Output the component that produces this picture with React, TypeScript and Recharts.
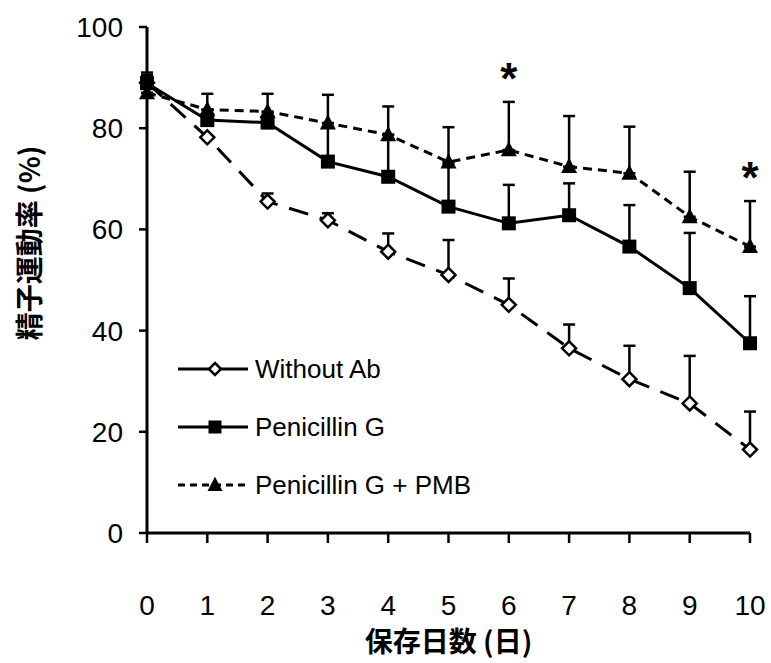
import { JSX } from 'react';
import {
	ErrorBar,
	LabelList,
	Line,
	LineChart,
	XAxis,
	YAxis,
} from 'recharts';

const days = [0, 1, 2, 3, 4, 5, 6, 7, 8, 9, 10];
const withoutAb = [89, 78.2, 65.5, 61.8, 55.6, 51, 45.1, 36.5, 30.4, 25.6, 16.5];
const withoutAbErr = [1.5, 0, 1.6, 1.4, 3.6, 6.9, 5.2, 4.7, 6.6, 9.4, 7.5];
const penicillin = [88.9, 81.6, 81.1, 73.4, 70.4, 64.5, 61.2, 62.8, 56.6, 48.4, 37.5];
const penicillinErr = [1.5, 2, 2, 7.6, 8.3, 8.5, 7.6, 6.3, 8.2, 10.9, 9.3];
const pmb = [87, 83.7, 83.3, 81, 78.7, 73.3, 75.7, 72.4, 71.1, 62.5, 56.6];
const pmbErr = [4, 3.1, 3.5, 5.6, 5.6, 6.9, 9.5, 10, 9.2, 8.9, 9];
const significantDays = [6, 10];
const yTicks = [0, 20, 40, 60, 80, 100];

const chartData = days.map((day, i) => ({
	day,
	withoutAb: withoutAb[i],
	withoutAbErr: [0, withoutAbErr[i]],
	penicillin: penicillin[i],
	penicillinErr: [0, penicillinErr[i]],
	pmb: pmb[i],
	pmbErr: [0, pmbErr[i]],
	star: significantDays.includes(day) ? pmb[i] + pmbErr[i] : null,
}));

const FONT = "'Liberation Sans', Arial, sans-serif";
const CJK = "'Noto Sans CJK JP', sans-serif";

const Diamond = ({ cx, cy, r = 7 }: { cx: number; cy: number; r?: number }) => (
	<path
		d={`M${cx},${cy - r}L${cx + r},${cy}L${cx},${cy + r}L${cx - r},${cy}Z`}
		fill="#fff"
		stroke="#000"
		strokeWidth={2.5}
	/>
);

const Square = ({ cx, cy, s = 14 }: { cx: number; cy: number; s?: number }) => (
	<rect x={cx - s / 2} y={cy - s / 2} width={s} height={s} fill="#000" />
);

const Triangle = ({ cx, cy, s = 16 }: { cx: number; cy: number; s?: number }) => (
	<path
		d={`M${cx},${cy - s * 0.55}L${cx + s / 2},${cy + s * 0.4}L${cx - s / 2},${cy + s * 0.4}Z`}
		fill="#000"
	/>
);

const legendItems = [
	{ name: 'Without Ab', dash: undefined, icon: 'diamond' },
	{ name: 'Penicillin G', dash: undefined, icon: 'square' },
	{ name: 'Penicillin G + PMB', dash: '7 5', icon: 'triangle' },
];

// legend sits inside the plot, bottom-left
const LegendBox = () => (
	<div
		style={{
			position: 'absolute',
			left: 178,
			top: 340,
			fontFamily: FONT,
		}}
	>
		{legendItems.map((item) => (
			<div
				key={item.name}
				style={{ display: 'flex', alignItems: 'center', height: 58 }}
			>
				<svg width={77} height={24}>
					<line
						x1={0}
						x2={70}
						y1={12}
						y2={12}
						stroke="#000"
						strokeWidth={3}
						strokeDasharray={item.dash}
					/>
					{item.icon === 'diamond' && <Diamond cx={37} cy={12} r={6} />}
					{item.icon === 'square' && <Square cx={37} cy={12} s={13} />}
					{item.icon === 'triangle' && <Triangle cx={37} cy={12} s={15} />}
				</svg>
				<span style={{ fontSize: 26, color: '#000' }}>{item.name}</span>
			</div>
		))}
	</div>
);

const tickStyle = { fill: '#000', fontSize: 28, fontFamily: FONT };

export default function App(): JSX.Element {
	return (
		<div
			style={{
				position: 'absolute',
				left: 0,
				top: 0,
				width: 771,
				height: 663,
				background: '#fff',
			}}
		>
			<LineChart
				width={771}
				height={663}
				data={chartData}
				margin={{ top: 27, right: 21, bottom: 30, left: 0 }}
			>
				<XAxis
					dataKey="day"
					type="number"
					domain={[0, 10]}
					ticks={days}
					height={100}
					tickSize={10}
					tickMargin={52}
					tick={tickStyle}
					axisLine={{ stroke: '#000', strokeWidth: 3 }}
					tickLine={{ stroke: '#000', strokeWidth: 2.5 }}
					label={{
						value: '保存日数 (日)',
						position: 'bottom',
						offset: -1,
						style: {
							fill: '#000',
							fontSize: 28,
							fontWeight: 'bold',
							fontFamily: CJK,
						},
					}}
				/>
				<YAxis
					type="number"
					domain={[0, 100]}
					ticks={yTicks}
					width={147}
					tickSize={8}
					tickMargin={16}
					tick={tickStyle}
					axisLine={{ stroke: '#000', strokeWidth: 3 }}
					tickLine={{ stroke: '#000', strokeWidth: 2.5 }}
					label={{
						content: () => (
							<text
								x={28}
								y={243}
								transform="rotate(-90 28 243)"
								textAnchor="middle"
								dominantBaseline="central"
								fill="#000"
								fontSize={28}
								fontWeight="bold"
								fontFamily={CJK}
							>
								精子運動率 (%)
							</text>
						),
					}}
				/>
				<Line
					dataKey="withoutAb"
					name="Without Ab"
					stroke="#000"
					strokeWidth={3}
					strokeDasharray="20 12"
					isAnimationActive={false}
					dot={(p: any) => <Diamond key={`dia-${p.index}`} cx={p.cx} cy={p.cy} />}
				>
					<ErrorBar
						dataKey="withoutAbErr"
						direction="y"
						width={6}
						stroke="#000"
						strokeWidth={2.5}
					/>
				</Line>
				<Line
					dataKey="penicillin"
					name="Penicillin G"
					stroke="#000"
					strokeWidth={3}
					isAnimationActive={false}
					dot={(p: any) => <Square key={`sq-${p.index}`} cx={p.cx} cy={p.cy} />}
				>
					<ErrorBar
						dataKey="penicillinErr"
						direction="y"
						width={6}
						stroke="#000"
						strokeWidth={2.5}
					/>
				</Line>
				<Line
					dataKey="pmb"
					name="Penicillin G + PMB"
					stroke="#000"
					strokeWidth={3}
					strokeDasharray="9 6"
					isAnimationActive={false}
					dot={(p: any) => <Triangle key={`tri-${p.index}`} cx={p.cx} cy={p.cy} />}
				>
					<ErrorBar
						dataKey="pmbErr"
						direction="y"
						width={6}
						stroke="#000"
						strokeWidth={2.5}
					/>
				</Line>
				<Line
					dataKey="star"
					stroke="none"
					dot={false}
					activeDot={false}
					legendType="none"
					isAnimationActive={false}
				>
					<LabelList
						dataKey="star"
						content={(p: any) =>
							p.value == null ? null : (
								<text
									x={p.x}
									y={p.y - 8}
									textAnchor="middle"
									fontSize={44}
									fontWeight="bold"
									fontFamily={FONT}
									fill="#000"
								>
									*
								</text>
							)
						}
					/>
				</Line>
			</LineChart>
			<LegendBox />
		</div>
	);
}
